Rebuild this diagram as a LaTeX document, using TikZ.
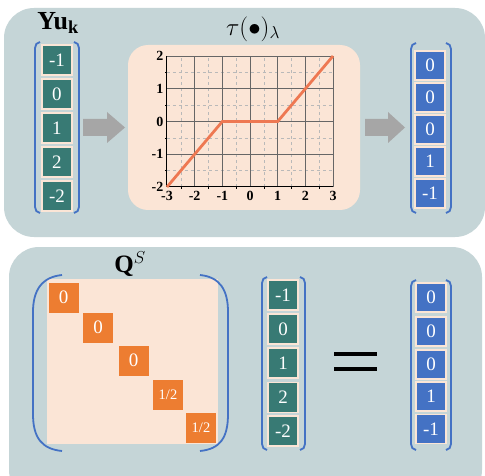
\documentclass[tikz,border=0pt]{standalone}
\usepackage{fontspec}
\setmainfont{Liberation Serif}
\usetikzlibrary{calc}
\definecolor{panel}{RGB}{197,213,215}
\definecolor{peach}{RGB}{251,229,214}
\definecolor{tealc}{RGB}{56,122,116}
\definecolor{bluec}{RGB}{68,114,196}
\definecolor{orangec}{RGB}{237,125,49}
\definecolor{plotline}{RGB}{238,120,82}
\definecolor{arrowg}{RGB}{166,166,166}
\begin{document}
\begin{tikzpicture}[x=1pt,y=-1pt,
  cellbox/.style={minimum width=30pt,minimum height=30pt,inner sep=0pt,draw=peach,line width=1.2pt,text=white,font=\fontsize{19}{19}\selectfont},
  tealcell/.style={cellbox,fill=tealc},
  bluecell/.style={cellbox,fill=bluec,minimum height=29pt},
  orcell/.style={cellbox,fill=orangec,draw=none},
  halfcell/.style={orcell,font=\fontsize{14.5}{14.5}\selectfont},
  brk/.style={draw=bluec,line width=1.8pt},
  garrow/.style={fill=arrowg},
  tick/.style={font=\bfseries\fontsize{14}{14}\selectfont},
  ttl/.style={font=\fontsize{23}{23}\selectfont}]
\useasboundingbox (0,0) rectangle (485,476);
\fill[white] (0,0) rectangle (485,476);
\begin{scope}
\clip (0,0) rectangle (485,476);
\fill[panel,rounded corners=30pt] (4,8) rectangle (485,237);
\fill[panel,rounded corners=30pt] (9,247) rectangle (482,500);
\end{scope}
% ---------- top left vector
\node[ttl,font=\fontsize{26}{26}\selectfont] (ylab) at (58,23) {\textbf{Yu}$_{\mathbf{k}}$};
\foreach \v/\y [count=\i] in {-1/60,0/94,1/128,2/162,-2/196}
  \node[tealcell] (a\i) at (57,\y) {\v};
\draw[brk] (40,42) to[out=180,in=90] (35,48) -- (35,207) to[out=-90,in=180] (40,213);
\draw[brk] (74,42) to[out=0,in=90] (79,48) -- (79,207) to[out=-90,in=0] (74,213);
% arrow 1
\fill[garrow] (83,119) -- (107,119) -- (107,112) -- (125,127.5) -- (107,143) -- (107,136) -- (83,136) -- cycle;
% ---------- plot
\node[ttl] (tau) at (253,29) {$\tau(\bullet)_{\lambda}$};
\fill[peach,rounded corners=20pt] (128,45) rectangle (360,210);
\begin{scope}[shift={(250,121.5)},x=27.67pt,y=32.75pt]
  \foreach \gx in {-2.5,-1.5,-0.5,0.5,1.5,2.5}
    \draw[gray!55,dashed,line width=0.5pt] (\gx,-2) -- (\gx,2);
  \foreach \gy in {-1.5,-0.5,0.5,1.5}
    \draw[gray!55,dashed,line width=0.5pt] (-3,\gy) -- (3,\gy);
  \foreach \gx in {-2,-1,0,1,2}
    \draw[gray!80!black,line width=0.6pt] (\gx,-2) -- (\gx,2);
  \foreach \gy in {-1,0,1}
    \draw[gray!80!black,line width=0.6pt] (-3,\gy) -- (3,\gy);
  \draw[gray!80!black,line width=0.7pt] (-3,2) -- (3,2) -- (3,-2);
  \draw[black,line width=1pt] (-3,2) -- (-3,-2) -- (3,-2);
  \foreach \gy in {-1.5,-0.5,0.5,1.5}
    \draw[black,line width=0.6pt] (-3,\gy) -- (-3.06,\gy);
  \foreach \gx in {-2.5,-1.5,-0.5,0.5,1.5,2.5}
    \draw[black,line width=0.6pt] (\gx,-2) -- (\gx,-2.06);
  \foreach \t in {-2,-1,0,1,2}
    \node[tick,anchor=east,inner sep=2pt] at (-3.05,\t) {\t};
  \foreach \t in {-3,-2,-1,0,1,2,3}
    \node[tick,anchor=north,inner sep=2pt] at (\t,-2.05) {\t};
  \draw[plotline,line width=2.8pt] (-3,-2) -- (-1,0) -- (1,0) -- (3,2);
\end{scope}
% arrow 2
\fill[garrow] (365,119) -- (388,119) -- (388,112) -- (405,127.5) -- (388,143) -- (388,136) -- (365,136) -- cycle;
% ---------- top right vector
\foreach \v/\y [count=\i] in {0/65.5,0/97.5,0/129.5,1/161.5,-1/193.5}
  \node[bluecell] (b\i) at (430,\y) {\v};
\draw[brk] (416,43) to[out=180,in=90] (411,49) -- (411,207) to[out=-90,in=180] (416,213);
\draw[brk] (446,43) to[out=0,in=90] (451,49) -- (451,207) to[out=-90,in=0] (446,213);
% ---------- matrix
\node[ttl,font=\fontsize{25}{25}\selectfont] (qlab) at (130,264) {$\mathbf{Q}^{S}$};
\fill[peach] (47,279) rectangle (218,444);
\node[orcell] (q1) at (63.5,297.5) {0};
\node[orcell] (q2) at (98,327.5) {0};
\node[orcell] (q3) at (133.5,360.5) {0};
\node[halfcell] (q4) at (168,394.5) {1/2};
\node[halfcell] (q5) at (201,427.5) {1/2};
\draw[brk] (62,275) .. controls (42,277) and (33,290) .. (33,312) -- (33,414) .. controls (33,438) and (42,449) .. (62,451);
\draw[brk] (200,275) .. controls (220,277) and (228,290) .. (228,312) -- (228,414) .. controls (228,438) and (220,449) .. (200,451);
% ---------- middle vector
\foreach \v/\y [count=\i] in {-1/295,0/329,1/363,2/397.5,-2/431}
  \node[tealcell] (c\i) at (283,\y) {\v};
\draw[brk] (267,277) to[out=180,in=90] (262,283) -- (262,444) to[out=-90,in=180] (267,450);
\draw[brk] (300,277) to[out=0,in=90] (305,283) -- (305,444) to[out=-90,in=0] (300,450);
% equals
\coordinate (e1) at (334,354); \coordinate (e2) at (377,354);
\coordinate (e3) at (334,369); \coordinate (e4) at (377,369);
\draw[black,line width=3.5pt] (e1) -- (e2);
\draw[black,line width=3.5pt] (e3) -- (e4);
% ---------- bottom right vector
\foreach \v/\y [count=\i] in {0/297.5,0/331.5,0/364.5,1/396.5,-1/429}
  \node[bluecell] (d\i) at (431,\y) {\v};
\draw[brk] (416,280) to[out=180,in=90] (411,286) -- (411,444) to[out=-90,in=180] (416,450);
\draw[brk] (446,280) to[out=0,in=90] (451,286) -- (451,444) to[out=-90,in=0] (446,450);
\end{tikzpicture}
\end{document}
